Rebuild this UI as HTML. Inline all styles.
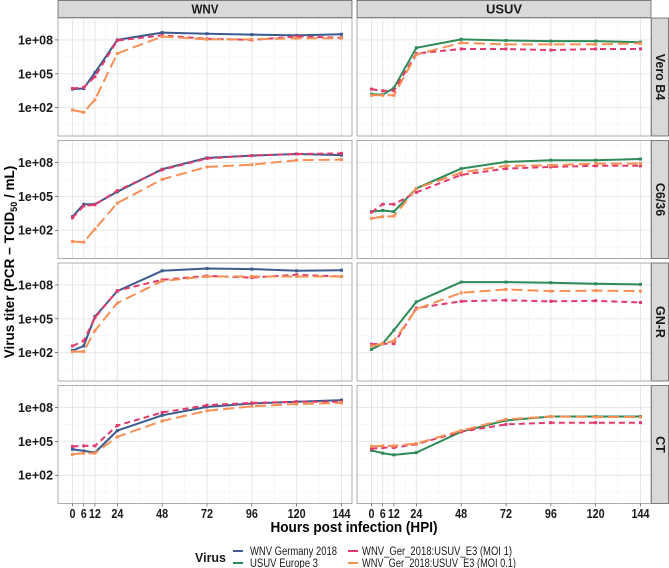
<!DOCTYPE html>
<html><head><meta charset="utf-8"><style>
body{margin:0;background:#fff;}
svg{display:block;font-family:"Liberation Sans",Arial,sans-serif;}
</style></head><body>
<svg id="chart" width="669" height="568" viewBox="0 0 669 568"></svg>
<script>
const hours=[0,6,12,24,48,72,96,120,144];
const cellLines=["Vero B4","C6/36","GN-R","CT"];
const viruses=["WNV","USUV"];
const yTicks=[2,5,8];
const yTickLabels=["1e+02","1e+05","1e+08"];
const xTickLabels=["0","6","12","24","48","72","96","120","144"];
// log10 titers, per row (cell line)
const wnvParent=[
 [3.65,3.7,5.1,8.0,8.65,8.55,8.47,8.4,8.5],
 [3.2,4.3,4.3,5.4,7.4,8.4,8.6,8.75,8.65],
 [2.2,2.6,5.2,7.45,9.25,9.45,9.4,9.25,9.3],
 [4.3,4.15,4.0,5.95,7.3,8.05,8.35,8.5,8.65]];
const usuvParent=[
 [3.2,3.15,3.75,7.3,8.05,7.95,7.9,7.9,7.8],
 [3.65,3.75,3.65,5.7,7.45,8.05,8.2,8.2,8.3],
 [2.3,2.8,4.0,6.5,8.25,8.25,8.2,8.1,8.05],
 [4.2,3.95,3.8,4.0,5.85,6.85,7.2,7.2,7.2]];
const chimMoi1WNV=[
 [3.7,3.8,4.75,7.95,8.4,8.1,8.0,8.3,8.2],
 [3.1,4.15,4.25,5.5,7.35,8.35,8.6,8.75,8.8],
 [2.6,3.05,5.1,7.5,8.45,8.8,8.65,8.9,8.75],
 [4.55,4.6,4.6,6.4,7.55,8.2,8.4,8.5,8.5]];
const chimMoi01WNV=[
 [1.8,1.6,2.7,6.8,8.3,8.05,8.05,8.15,8.15],
 [1.0,0.95,2.1,4.4,6.5,7.6,7.8,8.2,8.25],
 [2.1,2.1,3.95,6.4,8.35,8.75,8.75,8.75,8.75],
 [3.85,3.95,3.95,5.4,6.8,7.7,8.1,8.3,8.4]];
const chimMoi1USUV=[
 [3.65,3.5,3.5,6.8,7.2,7.2,7.1,7.2,7.2],
 [3.6,4.3,4.3,5.35,6.9,7.45,7.6,7.7,7.7],
 [2.75,2.8,2.8,5.95,6.55,6.65,6.55,6.6,6.45],
 [4.35,4.45,4.45,4.75,5.85,6.5,6.65,6.65,6.65]];
const chimMoi01USUV=[
 [3.1,3.1,3.1,6.7,7.75,7.6,7.6,7.6,7.7],
 [3.05,3.2,3.25,5.7,7.1,7.7,7.75,7.9,7.9],
 [2.6,2.8,3.05,5.85,7.3,7.6,7.45,7.5,7.45],
 [4.55,4.6,4.6,4.8,5.95,6.95,7.2,7.15,7.15]];

const NS="http://www.w3.org/2000/svg";
const svg=document.getElementById('chart');
function mk(tag,attrs,parent){const e=document.createElementNS(NS,tag);for(const k in attrs)e.setAttribute(k,attrs[k]);(parent||svg).appendChild(e);return e;}
const colL=[58,357], panelW=294;
const rowT=[18,140.5,263,385.5], panelH=118;
const yDomTop=9.94, yDomBot=-0.5;
function xs(h,c){return colL[c]+14.5+h*1.868;}
function ys(v,r){return rowT[r]+(yDomTop-v)/(yDomTop-yDomBot)*panelH;}
const minorX=[3,9,18,36,60,84,108,132];
const minorY=[0.5,3.5,6.5,9.5];

viruses.forEach((v,c)=>{
 const g=mk('g',{});
 
 
 mk('rect',{x:colL[c],y:0.5,width:panelW,height:17,fill:'#d9d9d9',stroke:'#333','stroke-width':0.6},g);
 const t=mk('text',{x:colL[c]+panelW/2,y:13.5,'text-anchor':'middle','font-size':12.5,'font-weight':'bold',fill:'#1a1a1a',textLength:9*v.length,lengthAdjust:'spacingAndGlyphs'},g);t.textContent=v;
});
cellLines.forEach((cl,r)=>{
 const g=mk('g',{});
 
 
 mk('rect',{x:651.5,y:rowT[r],width:17,height:panelH,fill:'#d9d9d9',stroke:'#333','stroke-width':0.6},g);
 const cy=rowT[r]+panelH/2;
 const t=mk('text',{x:660,y:cy,'text-anchor':'middle','dominant-baseline':'central','font-size':12.5,'font-weight':'bold',fill:'#1a1a1a',transform:`rotate(90 660 ${cy})`},g);t.textContent=cl;
});

const series=[
 {name:'wnv-germany-2018',col:0,data:wnvParent,color:'#3b5b8f',dash:'',w:2},
 {name:'usuv-europe-3',col:1,data:usuvParent,color:'#2e8b57',dash:'',w:2},
 {name:'chimera-moi-1',col:0,data:chimMoi1WNV,color:'#e23b6b',dash:'6,4',w:2},
 {name:'chimera-moi-1',col:1,data:chimMoi1USUV,color:'#e23b6b',dash:'6,4',w:2},
 {name:'chimera-moi-0-1',col:0,data:chimMoi01WNV,color:'#f69055',dash:'11,5',w:2},
 {name:'chimera-moi-0-1',col:1,data:chimMoi01USUV,color:'#f69055',dash:'11,5',w:2}
];

for(let r=0;r<4;r++){
 for(let c=0;c<2;c++){
  const pg=mk('g',{});
  
  
  const x0=colL[c],y0=rowT[r];
  mk('rect',{x:x0,y:y0,width:panelW,height:panelH,fill:'#fff'},pg);
  minorX.forEach(h=>mk('line',{x1:xs(h,c),x2:xs(h,c),y1:y0,y2:y0+panelH,stroke:'#f3f3f3','stroke-width':0.6},pg));
  minorY.forEach(v=>mk('line',{x1:x0,x2:x0+panelW,y1:ys(v,r),y2:ys(v,r),stroke:'#f3f3f3','stroke-width':0.6},pg));
  hours.forEach(h=>mk('line',{x1:xs(h,c),x2:xs(h,c),y1:y0,y2:y0+panelH,stroke:'#e6e6e6','stroke-width':1},pg));
  yTicks.forEach(v=>mk('line',{x1:x0,x2:x0+panelW,y1:ys(v,r),y2:ys(v,r),stroke:'#e6e6e6','stroke-width':1},pg));
  series.filter(s=>s.col===c).forEach(s=>{
   const d=s.data[r].map((v,i)=>(i?'L':'M')+xs(hours[i],c).toFixed(1)+','+ys(v,r).toFixed(1)).join(' ');
   const p=mk('path',{d:d,fill:'none',stroke:s.color,'stroke-width':s.w,'stroke-dasharray':s.dash,'stroke-linejoin':'round'},pg);
   
   
   s.data[r].forEach((v,i)=>{
    const m=mk('rect',{x:xs(hours[i],c)-1.5,y:ys(v,r)-1.5,width:3,height:3,fill:s.color},pg);
    
    
   });
  });
  mk('rect',{x:x0,y:y0,width:panelW,height:panelH,fill:'none',stroke:'#9a9a9a','stroke-width':0.8},pg);
 }
 yTicks.forEach((v,i)=>{
  mk('line',{x1:55,x2:58,y1:ys(v,r),y2:ys(v,r),stroke:'#333','stroke-width':0.6});
  const t=mk('text',{x:53,y:ys(v,r)+4.5,'text-anchor':'end','font-size':12.5,'font-weight':'bold',fill:'#1a1a1a',textLength:35,lengthAdjust:'spacingAndGlyphs'});
  
  
  t.textContent=yTickLabels[i];
 });
}
for(let c=0;c<2;c++){
 hours.forEach((h,i)=>{
  mk('line',{x1:xs(h,c),x2:xs(h,c),y1:503.5,y2:506.5,stroke:'#333','stroke-width':0.6});
  const t=mk('text',{x:xs(h,c),y:518,'text-anchor':'middle','font-size':12.5,'font-weight':'bold',fill:'#1a1a1a',textLength:6*xTickLabels[i].length,lengthAdjust:'spacingAndGlyphs'});
  
  
  t.textContent=xTickLabels[i];
 });
}
</script>
<div style="position:absolute;left:0;top:0;width:669px;height:568px;pointer-events:none">
<svg width="669" height="568" style="position:absolute;left:0;top:0">
 <text x="354" y="532" text-anchor="middle" font-size="15" font-weight="bold" fill="#000" font-family="Liberation Sans, sans-serif" textLength="167" lengthAdjust="spacingAndGlyphs">Hours post infection (HPI)</text>
 <text x="0" y="0" transform="translate(14 262) rotate(-90)" text-anchor="middle" font-size="13.5" font-weight="bold" fill="#000" font-family="Liberation Sans, sans-serif">Virus titer (PCR − TCID<tspan font-size="9" dy="3">50</tspan><tspan dy="-3"> / mL)</tspan></text>
 <g font-family="Liberation Sans, sans-serif" font-size="11.5" fill="#1a1a1a">
  <text x="195" y="562" font-size="13" font-weight="bold" textLength="31" lengthAdjust="spacingAndGlyphs">Virus</text>
  <g><line x1="233" x2="243" y1="551" y2="551" stroke="#3b5b8f" stroke-width="2"/><text x="250" y="555" textLength="87" lengthAdjust="spacingAndGlyphs">WNV Germany 2018</text></g>
  <g><line x1="233" x2="243" y1="563" y2="563" stroke="#2e8b57" stroke-width="2"/><text x="250" y="567" textLength="68" lengthAdjust="spacingAndGlyphs">USUV Europe 3</text></g>
  <g><line x1="348" x2="358" y1="551" y2="551" stroke="#e23b6b" stroke-width="2"/><text x="362" y="555" textLength="150" lengthAdjust="spacingAndGlyphs">WNV_Ger_2018:USUV_E3 (MOI 1)</text></g>
  <g><line x1="348" x2="358" y1="563" y2="563" stroke="#f69055" stroke-width="2"/><text x="362" y="567" textLength="154" lengthAdjust="spacingAndGlyphs">WNV_Ger_2018:USUV_E3 (MOI 0.1)</text></g>
 </g>
</svg>
</div>
</body></html>
